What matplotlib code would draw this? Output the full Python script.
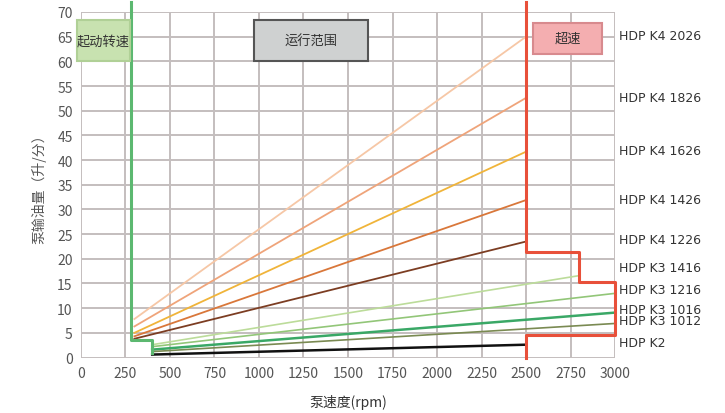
import numpy as np
import matplotlib.pyplot as plt
from matplotlib.patches import Rectangle

plt.rcParams['font.family'] = ['Noto Sans CJK SC', 'DejaVu Sans']

# pump series: start/end speed (rpm) and start/end flow (l/min)
k4_names = ["HDP K4 2026", "HDP K4 1826", "HDP K4 1626", "HDP K4 1426", "HDP K4 1226"]
k4_x = [300, 2500]
k4_y = [[7.8, 65.0], [6.3, 52.6], [5.0, 41.7], [4.3, 31.9], [3.8, 23.5]]
k4_colors = ["#f6c7a6", "#efa47a", "#f0b43a", "#d9773a", "#7c3d22"]

k3_names = ["HDP K3 1416", "HDP K3 1216", "HDP K3 1016", "HDP K3 1012", "HDP K2"]
k3_x = [[400, 2800], [400, 3000], [400, 3000], [400, 3000], [400, 2500]]
k3_y = [[2.6, 16.6], [2.2, 13.0], [1.6, 9.1], [1.2, 6.9], [0.6, 2.6]]
k3_colors = ["#bcdc9a", "#92c678", "#3aa866", "#7a8a52", "#111111"]

label_y = [65.3, 52.6, 42.0, 32.0, 24.0, 18.3, 13.7, 9.8, 7.4, 3.1]

start_x = [280, 280, 400, 400]
start_y = [72, 3.6, 3.6, 0.9]
over_x = [2500, 2500, 2800, 2800, 3000, 3000, 2500, 2500]
over_y = [72, 21.3, 21.3, 15.4, 15.4, 4.5, 4.5, 0]

fig = plt.figure(figsize=(7.25, 4.14), dpi=100)
ax = fig.add_axes([0.1117, 0.134, 0.7366, 0.8346])

ax.set_xlim(0, 3000)
ax.set_ylim(0, 70)
ax.set_xticks(np.arange(0, 3001, 250))
ax.set_yticks(np.arange(0, 71, 5))
ax.grid(True, color="#c4bebe", linewidth=1.4)
ax.set_axisbelow(True)
for s in ax.spines.values():
    s.set_visible(False)
ax.tick_params(length=0, labelsize=10, colors="#555555", pad=6)

for ys, c in zip(k4_y, k4_colors):
    ax.plot(k4_x, ys, color=c, linewidth=1.3, clip_on=False)
for xs, ys, c in zip(k3_x, k3_y, k3_colors):
    lw = 1.8 if c in ("#3aa866", "#111111") else 1.2
    ax.plot(xs, ys, color=c, linewidth=lw, clip_on=False)

ax.plot(start_x, start_y, color="#5cb870", linewidth=2.2, clip_on=False)
ax.plot(over_x, over_y, color="#e8503a", linewidth=2.2, clip_on=False)

for name, y in zip(k4_names + k3_names, label_y):
    ax.text(3025, y, name, fontsize=9, color="#333333", va="center",
            family=['DejaVu Sans'])

boxes = [(-22, 60, 297, 8.3, "#c8e2b0", "#b0d096", "起动转速"),
         (972, 60, 640, 8.3, "#cfd1d1", "#555555", "运行范围"),
         (2539, 61.5, 388, 6.3, "#f4aeb0", "#d88a8e", "超速")]
for x0, y0, w, h, fc, ec, txt in boxes:
    ax.add_patch(Rectangle((x0, y0), w, h, facecolor=fc, edgecolor=ec,
                           linewidth=1.5, clip_on=False, zorder=3))
    ax.text(x0 + w / 2, y0 + h / 2, txt, fontsize=9.5, color="#333333",
            ha="center", va="center", zorder=4)

ax.set_ylabel("泵输油量（升/分）", fontsize=10, color="#555555", labelpad=8)
ax.set_xlabel("泵速度(rpm)", fontsize=10, color="#333333", labelpad=10)

fig.savefig("out.png", dpi=100)
